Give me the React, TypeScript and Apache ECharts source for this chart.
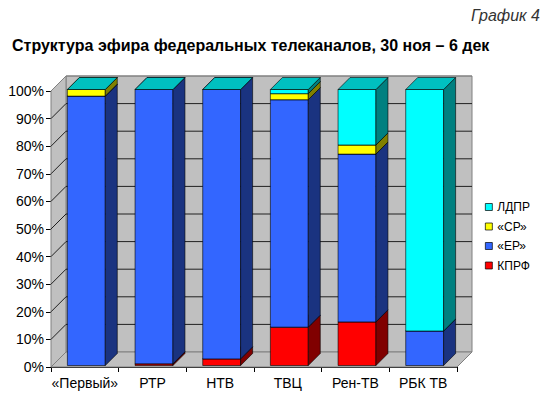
import React, { useEffect, useRef } from "react";
import * as echarts from "echarts";

const categories = ["«Первый»", "РТР", "НТВ", "ТВЦ", "Рен-ТВ", "РБК ТВ"];
const seriesNames = ["КПРФ", "«ЕР»", "«СР»", "ЛДПР"];
const kprf = [0, 0.6, 2.4, 13.9, 15.8, 0];
const er = [97.6, 99.4, 97.6, 82.4, 60.8, 12.5];
const sr = [2.4, 0, 0, 2.2, 3.3, 0];
const ldpr = [0, 0, 0, 1.5, 20.1, 87.5];
const yTicks = [0, 10, 20, 30, 40, 50, 60, 70, 80, 90, 100];

const faceColors = [
  { front: "#FF0000", side: "#800000", top: "#C00000" },
  { front: "#3366FF", side: "#1A3380", top: "#264CBF" },
  { front: "#FFFF00", side: "#808000", top: "#C0C000" },
  { front: "#00FFFF", side: "#008080", top: "#00C0C0" },
];

const WALL_DX = 15;
const WALL_DY = -15;
const BAR_OFF = 1.5;
const BAR_D = 12;
const FONT = "Liberation Sans, Arial, sans-serif";

export default function App() {
  const ref = useRef<HTMLDivElement>(null);
  useEffect(() => {
    if (!ref.current) return;
    const chart = echarts.init(ref.current, null, { renderer: "svg" });
    const values = [kprf, er, sr, ldpr];
    const stacked: number[][][] = values.map(() => []);
    categories.forEach((_, ci) => {
      let acc = 0;
      values.forEach((arr, si) => {
        const s = acc;
        acc += arr[ci];
        stacked[si].push([ci, s, acc]);
      });
    });

    const barSeries = values.map((_, si) => ({
      type: "custom",
      name: seriesNames[si],
      z: 3,
      itemStyle: { color: faceColors[si].front },
      data: stacked[si],
      renderItem: (params: any, api: any) => {
        const ci = api.value(0);
        const s = api.value(1);
        const e = api.value(2);
        const isTop = si === values.length - 1;
        if (e - s <= 0 && !isTop) return null;
        const p0 = api.coord([ci, s]);
        const p1 = api.coord([ci, e]);
        const bw = api.size([1, 0])[0] * 0.56;
        const xl = p0[0] - bw / 2 + BAR_OFF;
        const xr = xl + bw;
        const yb = p0[1] - BAR_OFF;
        const yt = p1[1] - BAR_OFF;
        const c = faceColors[si];
        const stroke = { stroke: "#000", lineWidth: 0.6 };
        const children: any[] = [];
        if (e - s > 0) {
          children.push({
            type: "polygon",
            shape: { points: [[xl, yb], [xr, yb], [xr, yt], [xl, yt]] },
            style: { fill: c.front, ...stroke },
          });
          children.push({
            type: "polygon",
            shape: { points: [[xr, yb], [xr + BAR_D, yb - BAR_D], [xr + BAR_D, yt - BAR_D], [xr, yt]] },
            style: { fill: c.side, ...stroke },
          });
        }
        children.push({
          type: "polygon",
          shape: { points: [[xl, yt], [xr, yt], [xr + BAR_D, yt - BAR_D], [xl + BAR_D, yt - BAR_D]] },
          style: { fill: c.top, ...stroke },
        });
        return { type: "group", children };
      },
    }));

    const wallSeries = {
      type: "custom",
      name: "walls",
      z: 1,
      silent: true,
      data: [[0]],
      renderItem: (params: any, api: any) => {
        const cs = params.coordSys;
        const x0 = cs.x;
        const x1 = cs.x + cs.width;
        const yTop = cs.y;
        const yBot = cs.y + cs.height;
        const wallStroke = { stroke: "#808080", lineWidth: 1 };
        const children: any[] = [
          {
            type: "polygon",
            shape: { points: [[x0 + WALL_DX, yTop + WALL_DY], [x1 + WALL_DX, yTop + WALL_DY], [x1 + WALL_DX, yBot + WALL_DY], [x0 + WALL_DX, yBot + WALL_DY]] },
            style: { fill: "#C0C0C0", ...wallStroke },
          },
          {
            type: "polygon",
            shape: { points: [[x0, yTop], [x0 + WALL_DX, yTop + WALL_DY], [x0 + WALL_DX, yBot + WALL_DY], [x0, yBot]] },
            style: { fill: "#C0C0C0", ...wallStroke },
          },
          {
            type: "polygon",
            shape: { points: [[x0, yBot], [x0 + WALL_DX, yBot + WALL_DY], [x1 + WALL_DX, yBot + WALL_DY], [x1, yBot]] },
            style: { fill: "#C0C0C0", ...wallStroke },
          },
        ];
        yTicks.forEach((v) => {
          if (v === 0) return;
          const y = api.coord([0, v])[1];
          children.push({
            type: "polyline",
            shape: { points: [[x0, y], [x0 + WALL_DX, y + WALL_DY], [x1 + WALL_DX, y + WALL_DY]] },
            style: { stroke: v === 100 ? "#808080" : "#202020", lineWidth: 1, fill: "none" },
          });
        });
        return { type: "group", children };
      },
    };

    chart.setOption({
      animation: false,
      backgroundColor: "#FFFFFF",
      title: [
        {
          text: "Структура эфира федеральных телеканалов, 30 ноя – 6 дек",
          left: 12,
          top: 37,
          padding: 0,
          textStyle: { fontSize: 16, fontWeight: "bold", fontFamily: FONT, color: "#000" },
        },
        {
          text: "График 4",
          right: 10,
          top: 7,
          padding: 0,
          textStyle: { fontSize: 16, fontStyle: "italic", fontWeight: "normal", fontFamily: FONT, color: "#333" },
        },
      ],
      legend: {
        data: ["ЛДПР", "«СР»", "«ЕР»", "КПРФ"],
        orient: "vertical",
        left: 485,
        top: 201,
        padding: 0,
        itemWidth: 7,
        itemHeight: 7,
        itemGap: 7.5,
        icon: "rect",
        selectedMode: false,
        itemStyle: { borderColor: "#000", borderWidth: 0.7 },
        textStyle: { fontSize: 12, fontFamily: FONT, color: "#000" },
      },
      grid: { left: 51, right: 93, top: 91, bottom: 34 },
      xAxis: {
        type: "category",
        data: categories,
        axisLine: { show: true, lineStyle: { color: "#000", width: 1 } },
        axisTick: { show: true, length: 5, alignWithLabel: false, interval: 0, lineStyle: { color: "#000" } },
        axisLabel: { fontSize: 14, fontFamily: FONT, color: "#000", margin: 9, interval: 0 },
        splitLine: { show: false },
      },
      yAxis: {
        type: "value",
        min: 0,
        max: 100,
        interval: 10,
        axisLine: { show: true, lineStyle: { color: "#000", width: 1 } },
        axisTick: { show: true, length: 5, lineStyle: { color: "#000" } },
        axisLabel: { fontSize: 14, fontFamily: FONT, color: "#000", margin: 7, formatter: "{value}%" },
        splitLine: { show: false },
      },
      series: [wallSeries, ...barSeries],
    });
    return () => chart.dispose();
  }, []);
  return (
    <div
      ref={ref}
      style={{ position: "fixed", left: 0, top: 0, width: 550, height: 401 }}
    />
  );
}
